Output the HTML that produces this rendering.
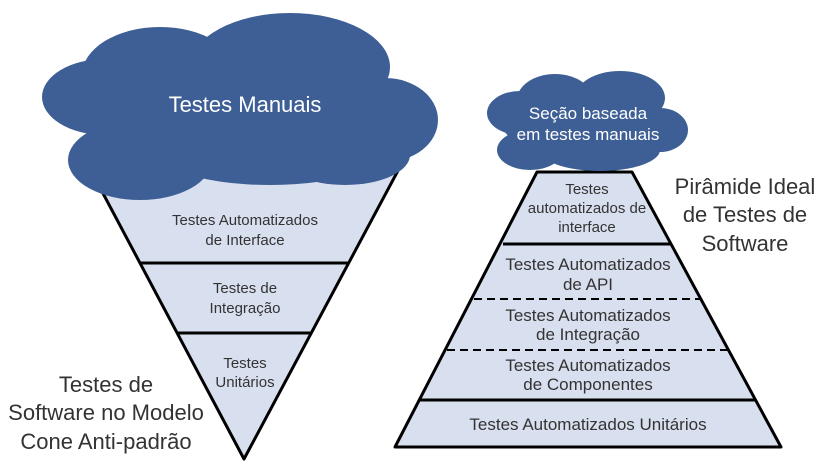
<!DOCTYPE html>
<html><head><meta charset="utf-8"><style>
html,body{margin:0;padding:0;background:#fff;}
svg{display:block;}
text{font-family:"Liberation Sans Narrow","Liberation Sans",sans-serif;}
</style></head><body>
<svg width="829" height="461" viewBox="0 0 829 461" xmlns="http://www.w3.org/2000/svg">
<!-- Cone -->
<polygon points="80,150 409,150 244,459" fill="#d8dfee" stroke="#000" stroke-width="3" stroke-linejoin="round"/>
<line x1="140" y1="263" x2="349" y2="263" stroke="#000" stroke-width="3"/>
<line x1="177" y1="333" x2="312" y2="333" stroke="#000" stroke-width="3"/>
<!-- Cloud 1 -->
<g fill="#3e5f95">
<ellipse cx="105" cy="97" rx="63" ry="38"/>
<ellipse cx="160" cy="75" rx="78" ry="48"/>
<ellipse cx="290" cy="67" rx="100" ry="54"/>
<ellipse cx="385" cy="120" rx="53" ry="42"/>
<ellipse cx="140" cy="160" rx="72" ry="40"/>
<ellipse cx="270" cy="140" rx="130" ry="45"/>
<ellipse cx="345" cy="155" rx="65" ry="30"/>
<ellipse cx="230" cy="105" rx="150" ry="55"/>
</g>
<text x="245" y="112" font-size="22" fill="#fff" text-anchor="middle">Testes Manuais</text>
<!-- Cone labels -->
<g font-size="15" fill="#333" text-anchor="middle">
<text x="245" y="225">Testes Automatizados</text>
<text x="245" y="245">de Interface</text>
<text x="245" y="293">Testes de</text>
<text x="245" y="313">Integração</text>
<text x="245" y="368">Testes</text>
<text x="245" y="387">Unitários</text>
</g>
<g font-size="22" fill="#333" text-anchor="middle">
<text x="106" y="392">Testes de</text>
<text x="106" y="420">Software no Modelo</text>
<text x="106" y="449">Cone Anti-padrão</text>
</g>
<!-- Pyramid -->
<polygon points="537,172 632,172 781,447 395,447" fill="#d8dfee" stroke="#000" stroke-width="3" stroke-linejoin="round"/>
<line x1="503" y1="244" x2="671" y2="244" stroke="#000" stroke-width="3"/>
<line x1="474" y1="299" x2="701" y2="299" stroke="#000" stroke-width="2" stroke-dasharray="8,5"/>
<line x1="447" y1="350" x2="729" y2="350" stroke="#000" stroke-width="2" stroke-dasharray="8,5"/>
<line x1="420" y1="400" x2="756" y2="400" stroke="#000" stroke-width="3"/>
<!-- Cloud 2 -->
<g fill="#3e5f95">
<ellipse cx="520" cy="113" rx="33" ry="22"/>
<ellipse cx="555" cy="100" rx="38" ry="26"/>
<ellipse cx="620" cy="98" rx="45" ry="27"/>
<ellipse cx="660" cy="130" rx="28" ry="22"/>
<ellipse cx="530" cy="150" rx="33" ry="20"/>
<ellipse cx="600" cy="150" rx="60" ry="21"/>
<ellipse cx="588" cy="125" rx="85" ry="32"/>
</g>
<g font-size="17" fill="#fff" text-anchor="middle">
<text x="588" y="119">Seção baseada</text>
<text x="588" y="140">em testes manuais</text>
</g>
<g font-size="15" fill="#333" text-anchor="middle">
<text x="587" y="194">Testes</text>
<text x="587" y="213">automatizados de</text>
<text x="587" y="232">interface</text>
</g>
<g font-size="17" fill="#333" text-anchor="middle">
<text x="588" y="270">Testes Automatizados</text>
<text x="588" y="290">de API</text>
<text x="588" y="321">Testes Automatizados</text>
<text x="588" y="340">de Integração</text>
<text x="588" y="371">Testes Automatizados</text>
<text x="588" y="390">de Componentes</text>
<text x="588" y="430">Testes Automatizados Unitários</text>
</g>
<g font-size="22" fill="#333" text-anchor="middle">
<text x="745" y="194">Pirâmide Ideal</text>
<text x="745" y="222">de Testes de</text>
<text x="745" y="251">Software</text>
</g>
</svg>
</body></html>
